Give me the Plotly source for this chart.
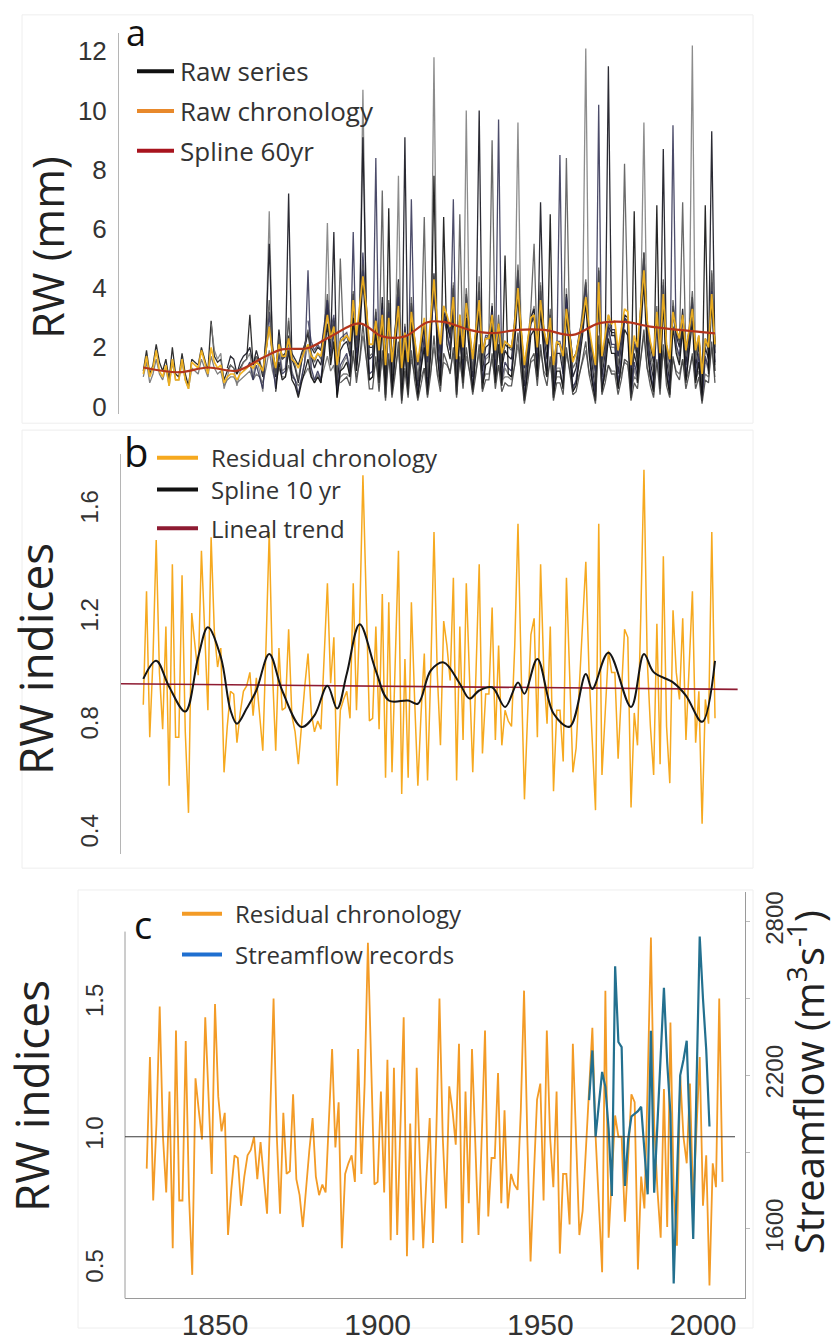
import plotly.graph_objects as go

W, H = 838, 1341

# ---------------------------------------------------------------- data
FIRST_YEAR = 1829

# Residual (prewhitened) ring-width chronology, 1829-2006
RESIDUAL = [
    0.88,
    1.30, 0.76, 1.05, 1.49, 1.00, 0.79, 1.17, 0.58, 1.40, 0.76,
    0.76, 1.36, 0.78, 0.48, 1.22, 1.10, 0.99, 1.45, 1.15, 0.86,
    1.50, 1.15, 1.02, 1.09, 0.63, 0.80, 0.93, 0.92, 0.74, 0.85,
    0.93, 0.95, 1.00, 0.84, 0.98, 0.85, 0.71, 1.10, 1.52, 1.00,
    0.71, 1.09, 0.86, 0.87, 1.16, 0.84, 0.78, 0.66, 0.82, 0.95,
    1.07, 0.85, 0.78, 0.82, 0.79, 1.05, 1.33, 0.96, 1.13, 0.58,
    0.86, 0.90, 0.93, 0.83, 1.33, 0.86, 1.20, 1.73, 1.25, 0.82,
    0.83, 1.17, 0.79, 1.29, 0.61, 1.26, 0.63, 1.00, 1.45, 0.55,
    1.05, 0.61, 1.26, 0.90, 0.58, 0.85, 1.07, 0.60, 1.00, 1.52,
    1.00, 0.73, 1.19, 1.10, 0.97, 1.35, 0.60, 1.17, 0.75, 1.33,
    1.00, 0.63, 1.00, 1.40, 0.70, 0.92, 0.92, 1.24, 0.75, 1.10,
    0.73, 0.86, 0.82, 0.80, 1.10, 1.55, 1.00, 0.53, 0.85, 1.14,
    1.20, 0.76, 1.40, 1.00, 0.81, 1.17, 0.56, 0.86, 0.86, 0.67,
    1.35, 1.00, 0.63, 0.72, 0.95, 1.14, 1.41, 1.00, 0.75, 0.49,
    1.55, 0.62, 0.85, 1.08, 1.00, 1.00, 0.68, 0.90, 1.16, 1.13,
    0.50, 0.85, 0.73, 1.20, 1.75, 1.05, 0.80, 0.62, 1.18, 0.66,
    1.43, 0.80, 0.59, 1.23, 1.00, 0.90, 1.20, 0.75, 1.00, 1.30,
    0.74, 0.93, 0.44, 0.90, 0.81, 1.52, 0.83,
]

# Raw (mean ring-width) chronology in mm, 1829-2006
RAW_CHRONOLOGY = [
    1.1,
    1.7, 1.0, 1.3, 1.9, 1.2, 1.0, 1.4, 0.7, 1.6, 0.9,
    0.9, 1.6, 0.9, 0.6, 1.5, 1.4, 1.3, 1.9, 1.5, 1.1,
    2.0, 1.5, 1.3, 1.4, 0.8, 1.0, 1.1, 1.1, 0.9, 1.1,
    1.2, 1.3, 1.4, 1.3, 1.5, 1.4, 1.2, 1.9, 2.7, 1.8,
    1.3, 2.1, 1.7, 1.7, 2.3, 1.6, 1.5, 1.3, 1.6, 1.9,
    2.1, 1.7, 1.6, 1.8, 1.7, 2.4, 3.1, 2.3, 2.7, 1.4,
    2.2, 2.3, 2.4, 2.2, 3.6, 2.4, 3.4, 4.4, 3.4, 2.1,
    2.1, 2.9, 1.9, 3.1, 1.4, 3.0, 1.5, 2.4, 3.4, 1.3,
    2.5, 1.5, 3.2, 2.3, 1.5, 2.3, 3.0, 1.7, 2.9, 4.3,
    2.9, 2.1, 3.4, 3.1, 2.7, 3.7, 1.6, 3.1, 2.0, 3.5,
    2.6, 1.6, 2.6, 3.6, 1.8, 2.3, 2.3, 3.1, 1.9, 2.8,
    1.8, 2.2, 2.1, 2.0, 2.8, 4.0, 2.6, 1.4, 2.2, 3.0,
    3.1, 2.0, 3.6, 2.6, 2.1, 3.0, 1.4, 2.2, 2.1, 1.7,
    3.3, 2.4, 1.5, 1.8, 2.4, 2.9, 3.7, 2.7, 2.0, 1.4,
    4.2, 1.7, 2.4, 3.1, 2.8, 2.9, 1.9, 2.6, 3.3, 3.2,
    1.4, 2.4, 2.0, 3.3, 4.6, 2.9, 2.2, 1.7, 3.2, 1.8,
    3.8, 2.1, 1.6, 3.2, 2.6, 2.3, 3.1, 1.9, 2.6, 3.3,
    1.9, 2.4, 1.1, 2.3, 2.0, 3.8, 2.1,
]

# Individual raw ring-width series (mm); each starts at its own year
SERIES_STARTS = [1829, 1829, 1850, 1855, 1860, 1865, 1870, 1880, 1890]

SERIES_A = [
    1.0, 1.5, 0.8, 1.1, 1.6, 1.1, 0.9, 1.3, 0.7, 1.5, 0.9,
    0.9, 1.5, 0.9, 0.6, 1.3, 1.2, 1.1, 1.6, 1.3, 1.0,
    1.7, 1.3, 1.1, 1.2, 0.7, 0.9, 1.0, 1.0, 0.8, 0.9,
    1.0, 1.1, 1.2, 0.9, 1.1, 1.0, 0.8, 1.3, 1.9, 1.2,
    0.8, 1.3, 1.0, 1.0, 1.4, 1.0, 0.9, 0.7, 0.9, 1.1,
    1.3, 1.0, 0.9, 1.0, 0.9, 1.3, 1.7, 1.2, 1.4, 0.6,
    1.0, 1.1, 1.1, 1.0, 1.7, 1.0, 1.5, 2.4, 1.6, 0.9,
    1.0, 1.5, 0.9, 1.6, 0.7, 1.6, 0.7, 1.2, 1.9, 0.6,
    1.3, 0.7, 1.6, 1.1, 0.6, 1.0, 1.3, 0.7, 1.2, 2.0,
    1.2, 0.8, 1.5, 1.4, 1.2, 1.8, 0.7, 1.5, 0.9, 1.7,
    1.2, 0.7, 1.2, 1.8, 0.8, 1.1, 1.1, 1.6, 0.9, 1.4,
    0.9, 1.0, 1.0, 0.9, 1.4, 2.1, 1.2, 0.6, 1.0, 1.5,
    1.6, 0.9, 1.9, 1.2, 1.0, 1.5, 0.6, 1.0, 1.0, 0.8,
    1.8, 1.2, 0.7, 0.8, 1.1, 1.5, 1.9, 1.2, 0.9, 0.5,
    2.1, 0.7, 1.0, 1.4, 1.2, 1.2, 0.8, 1.1, 1.5, 1.4,
    0.6, 1.0, 0.9, 1.6, 2.4, 1.3, 1.0, 0.7, 1.5, 0.8,
    1.9, 1.0, 0.7, 1.6, 1.2, 1.1, 1.6, 0.9, 1.2, 1.7,
    0.9, 1.2, 0.5, 1.1, 1.0, 2.0, 1.0,
]

SERIES_B = [
    1.2, 1.9, 1.1, 1.4, 2.1, 1.5, 1.2, 1.6, 0.9, 2.0, 1.1,
    1.0, 1.8, 1.1, 0.7, 1.6, 1.5, 1.4, 2.0, 1.6, 1.2,
    2.9, 1.7, 1.5, 1.6, 0.9, 1.2, 1.4, 1.3, 1.1, 1.3,
    1.5, 1.6, 3.1, 1.4, 1.7, 1.5, 1.2, 1.9, 2.7, 1.8,
    1.3, 2.1, 1.7, 1.8, 2.4, 1.8, 1.6, 1.4, 1.8, 2.1,
    2.5, 2.0, 1.8, 2.0, 1.9, 2.6, 3.3, 2.4, 2.9, 1.4,
    2.2, 2.3, 2.4, 2.1, 3.4, 2.2, 3.0, 4.4, 3.1, 2.0,
    2.0, 2.9, 1.9, 3.2, 1.5, 3.1, 1.5, 2.5, 3.6, 1.3,
    2.6, 1.5, 3.1, 2.2, 1.4, 2.1, 2.7, 1.5, 2.5, 3.8,
    2.5, 1.8, 3.0, 2.8, 2.4, 3.4, 1.5, 2.9, 1.9, 3.3,
    2.5, 1.6, 2.5, 3.5, 1.7, 2.3, 2.3, 3.1, 1.9, 2.7,
    1.8, 2.1, 2.0, 2.0, 2.7, 3.9, 2.5, 1.3, 2.1, 2.8,
    3.0, 1.9, 3.5, 2.5, 2.0, 2.9, 1.4, 2.1, 2.1, 1.7,
    3.4, 2.5, 1.6, 1.8, 2.4, 2.8, 3.5, 2.5, 1.9, 1.2,
    3.9, 1.5, 2.1, 2.7, 2.5, 2.5, 1.7, 2.2, 2.9, 2.8,
    1.2, 2.1, 1.8, 3.0, 4.4, 2.6, 2.0, 1.5, 2.9, 1.6,
    3.6, 2.0, 1.5, 3.1, 2.5, 2.2, 3.0, 1.9, 2.5, 3.2,
    1.8, 2.3, 1.1, 2.2, 2.0, 3.8, 2.1,
]

SERIES_C = [
    2.8, 1.9, 1.6, 1.8, 0.6, 1.0, 1.4, 1.3, 0.7, 1.2,
    1.5, 1.6, 1.8, 1.0, 1.7, 1.2, 0.5, 2.4, 6.6, 2.0,
    0.6, 2.3, 1.2, 1.3, 3.0, 1.2, 0.9, 0.4, 1.0, 1.6,
    2.1, 1.1, 0.8, 1.1, 0.8, 2.0, 6.2, 1.6, 2.6, 0.3,
    1.2, 1.5, 1.7, 1.0, 3.6, 1.2, 3.0, 10.7, 3.4, 0.9,
    1.0, 3.0, 0.8, 3.5, 0.4, 3.3, 0.5, 2.0, 7.8, 0.3,
    2.2, 0.5, 3.4, 1.5, 0.3, 1.3, 2.3, 0.4, 2.0, 11.8,
    2.1, 0.7, 3.2, 2.6, 1.9, 4.2, 0.4, 3.0, 0.8, 10.0,
    2.0, 0.5, 2.1, 4.4, 0.6, 1.6, 1.7, 3.5, 0.8, 2.6,
    0.7, 1.3, 1.1, 1.0, 2.6, 9.6, 2.0, 0.2, 1.3, 3.0,
    3.4, 1.0, 4.2, 2.0, 1.0, 3.1, 0.3, 1.3, 1.3, 0.6,
    4.0, 2.0, 0.5, 0.8, 1.7, 2.9, 12.1, 2.0, 0.9, 0.2,
    4.6, 0.5, 1.3, 2.6, 2.0, 2.0, 0.6, 1.5, 3.0, 2.8,
    0.3, 1.3, 0.8, 3.2, 9.6, 2.2, 1.0, 0.4, 3.1, 0.6,
    4.2, 1.0, 0.4, 3.3, 2.0, 1.5, 3.1, 0.9, 2.0, 12.2,
    0.8, 1.7, 0.2, 1.6, 1.2, 4.5, 1.4,
]

SERIES_D = [
    1.3, 1.7, 1.6, 1.1, 1.5,
    1.7, 1.8, 2.0, 1.4, 1.9, 1.5, 1.0, 2.4, 5.5, 2.1,
    1.0, 2.6, 1.6, 1.7, 7.2, 1.6, 1.3, 0.8, 1.5, 2.0,
    2.5, 1.7, 1.3, 1.6, 1.4, 2.4, 3.6, 2.0, 5.9, 0.7,
    1.9, 2.1, 2.2, 1.7, 3.8, 1.8, 3.1, 9.1, 3.6, 1.6,
    1.7, 3.2, 1.5, 3.7, 0.8, 3.5, 0.9, 2.4, 4.3, 0.6,
    9.1, 0.9, 3.5, 2.0, 0.7, 1.8, 2.8, 0.8, 2.4, 4.5,
    2.4, 1.3, 3.2, 2.8, 2.3, 4.0, 0.8, 3.1, 1.4, 3.8,
    2.4, 1.0, 2.4, 10.0, 1.2, 2.0, 2.1, 3.4, 1.4, 2.8,
    1.3, 1.9, 1.7, 1.6, 2.8, 4.6, 2.4, 0.7, 1.8, 3.0,
    3.3, 1.5, 6.9, 2.4, 1.6, 3.1, 0.7, 1.8, 1.8, 1.1,
    3.8, 2.4, 1.0, 1.3, 2.1, 3.0, 4.2, 2.4, 1.4, 0.5,
    4.6, 1.0, 1.8, 11.5, 2.4, 2.4, 1.1, 2.0, 3.1, 3.0,
    0.6, 1.8, 1.3, 3.3, 5.2, 2.6, 1.5, 0.9, 3.2, 1.0,
    8.7, 1.6, 0.8, 3.4, 2.4, 2.0, 3.3, 1.4, 2.4, 3.7,
    1.3, 2.1, 0.4, 2.0, 1.6, 9.3, 1.8,
]

SERIES_E = [
    1.2, 1.3, 1.5, 0.9, 1.4, 1.0, 0.6, 1.8, 3.2, 1.5,
    0.6, 1.8, 1.1, 1.2, 2.3, 1.1, 0.9, 0.4, 0.9, 1.5,
    4.6, 1.3, 0.9, 1.2, 0.9, 2.0, 3.3, 1.7, 2.6, 0.4,
    1.4, 1.6, 1.8, 1.2, 5.9, 1.4, 2.9, 5.2, 3.1, 1.1,
    1.2, 8.4, 1.0, 3.2, 0.4, 3.0, 0.5, 2.0, 4.0, 0.3,
    2.2, 0.5, 7.0, 1.6, 0.4, 1.5, 2.4, 0.5, 2.1, 4.3,
    2.1, 0.9, 3.0, 2.5, 1.9, 7.0, 0.5, 2.8, 1.0, 3.7,
    2.1, 0.6, 2.1, 3.9, 0.8, 1.7, 1.8, 3.2, 1.0, 9.7,
    0.9, 1.5, 1.3, 1.2, 2.5, 4.5, 2.0, 0.3, 1.5, 2.8,
    3.1, 1.2, 3.9, 2.1, 1.2, 2.9, 0.4, 1.5, 8.5, 0.8,
    3.7, 2.0, 0.6, 0.9, 1.8, 2.8, 4.1, 2.1, 1.0, 0.3,
    10.2, 0.6, 1.5, 2.7, 2.1, 2.1, 0.8, 1.7, 3.0, 2.8,
    0.4, 1.5, 1.0, 3.1, 5.0, 2.3, 1.2, 0.6, 3.0, 0.7,
    4.1, 1.3, 0.5, 9.5, 2.1, 1.7, 3.1, 1.0, 2.1, 3.5,
    1.0, 1.8, 0.2, 1.7, 1.3, 4.2, 1.5,
]

SERIES_F = [
    1.6, 1.1, 2.2, 3.6, 1.9,
    1.1, 2.4, 1.6, 1.7, 2.9, 1.7, 1.4, 0.9, 1.6, 2.1,
    2.6, 1.8, 1.5, 1.8, 1.6, 2.6, 3.8, 2.2, 3.0, 0.9,
    5.0, 2.2, 2.4, 1.9, 3.9, 2.0, 3.3, 4.8, 3.5, 1.7,
    1.8, 3.3, 1.6, 7.3, 1.0, 3.6, 1.1, 2.6, 4.2, 0.8,
    2.8, 1.0, 3.7, 2.3, 0.9, 2.1, 6.4, 1.0, 2.6, 4.4,
    2.6, 1.6, 3.4, 3.0, 2.5, 4.1, 1.0, 6.5, 1.6, 4.0,
    2.6, 1.2, 2.6, 4.2, 1.4, 2.3, 2.4, 9.0, 1.6, 3.1,
    1.5, 2.1, 2.0, 1.9, 3.0, 4.8, 2.6, 0.9, 2.1, 3.3,
    5.5, 1.8, 4.1, 2.6, 1.9, 3.3, 0.9, 2.1, 2.1, 1.4,
    8.4, 2.6, 1.3, 1.5, 2.3, 3.2, 4.3, 2.6, 1.6, 0.8,
    4.7, 1.3, 2.0, 3.1, 2.6, 2.6, 1.4, 2.2, 8.2, 3.2,
    0.9, 2.1, 1.6, 3.5, 5.2, 2.8, 1.8, 1.2, 3.4, 1.3,
    4.3, 1.9, 1.1, 3.6, 2.6, 2.2, 6.9, 1.7, 2.6, 3.9,
    1.6, 2.3, 0.7, 2.2, 1.9, 4.6, 2.0,
]

SERIES_G = [
    0.5, 1.5, 0.9, 1.0, 1.9, 0.9, 0.7, 0.3, 0.8, 1.2,
    1.6, 1.0, 0.8, 1.0, 0.8, 1.7, 2.8, 1.4, 2.2, 0.3,
    1.2, 1.3, 1.5, 1.0, 3.0, 1.2, 2.4, 4.3, 2.6, 0.9,
    1.0, 2.6, 0.8, 2.9, 0.3, 6.7, 0.4, 1.7, 3.4, 0.2,
    1.9, 0.4, 2.9, 1.4, 0.3, 1.3, 2.0, 0.4, 1.8, 7.8,
    1.8, 0.7, 6.4, 2.1, 1.6, 3.1, 0.4, 2.4, 0.8, 3.0,
    1.8, 0.5, 1.8, 3.3, 0.6, 1.4, 1.5, 2.7, 0.8, 2.1,
    0.7, 5.1, 1.1, 1.0, 2.1, 3.8, 1.7, 0.2, 1.2, 2.4,
    2.6, 1.0, 3.3, 1.8, 1.0, 6.5, 0.3, 1.2, 1.2, 0.6,
    3.1, 1.7, 0.5, 0.7, 1.5, 2.4, 3.5, 1.8, 0.8, 0.2,
    3.8, 0.5, 1.2, 2.3, 1.8, 1.8, 0.6, 1.4, 2.6, 2.4,
    0.3, 6.6, 0.8, 2.6, 4.2, 1.9, 1.0, 0.5, 6.8, 0.6,
    3.5, 1.1, 0.4, 2.7, 1.8, 1.4, 2.6, 0.8, 1.8, 2.9,
    0.8, 1.5, 0.2, 6.8, 1.1, 3.6, 1.2,
]

SERIES_H = [
    2.9, 2.2, 1.9, 2.1, 1.9, 2.8, 3.6, 2.6, 3.1, 1.4,
    2.3, 2.4, 2.5, 2.1, 3.5, 2.3, 3.1, 4.6, 3.3, 2.1,
    2.1, 3.0, 2.0, 3.3, 1.5, 3.2, 1.6, 2.6, 3.7, 1.3,
    2.7, 1.5, 3.2, 2.3, 1.4, 2.2, 2.8, 1.5, 2.6, 3.9,
    2.6, 1.8, 3.1, 2.9, 2.5, 3.5, 1.5, 3.0, 1.9, 3.4,
    2.6, 1.6, 2.6, 3.6, 1.8, 2.4, 2.4, 3.2, 1.9, 2.8,
    1.9, 2.2, 2.1, 2.0, 2.8, 4.0, 2.6, 1.3, 2.2, 2.9,
    3.1, 1.9, 3.6, 2.6, 2.1, 3.0, 1.4, 2.2, 2.2, 1.7,
    3.5, 2.6, 1.6, 1.8, 2.5, 2.9, 3.6, 2.6, 1.9, 1.2,
    4.0, 1.6, 2.2, 2.8, 2.6, 2.6, 1.7, 2.3, 3.0, 2.9,
    1.3, 2.2, 1.9, 3.1, 4.5, 2.7, 2.1, 1.6, 3.0, 1.7,
    3.7, 2.1, 1.5, 3.2, 2.6, 2.3, 3.1, 1.9, 2.6, 3.3,
    1.9, 2.4, 1.1, 2.3, 2.1, 3.9, 2.2,
]

SERIES_I = [
    0.8, 0.9, 1.0, 0.7, 1.9, 0.8, 1.6, 2.8, 1.8, 0.6,
    0.6, 1.7, 0.5, 1.9, 0.2, 1.8, 0.3, 1.1, 2.2, 0.1,
    1.2, 0.3, 1.9, 0.9, 0.2, 0.8, 1.3, 0.3, 1.1, 2.4,
    1.1, 0.5, 1.8, 1.5, 1.1, 2.0, 0.3, 1.7, 0.6, 2.0,
    1.1, 0.4, 1.1, 2.1, 0.5, 0.9, 0.9, 1.8, 0.6, 1.4,
    0.5, 0.8, 0.7, 0.7, 1.4, 2.5, 1.1, 0.1, 0.8, 1.6,
    1.8, 0.7, 2.1, 1.1, 0.7, 1.7, 0.2, 0.8, 0.8, 0.4,
    2.0, 1.1, 0.4, 0.5, 1.0, 1.6, 2.2, 1.1, 0.6, 0.1,
    2.4, 0.4, 0.8, 1.4, 1.1, 1.1, 0.4, 0.9, 1.6, 1.5,
    0.2, 0.8, 0.6, 1.6, 2.6, 1.3, 0.7, 0.3, 1.6, 0.4,
    2.1, 0.7, 0.3, 1.7, 1.1, 0.9, 1.6, 0.6, 1.1, 1.8,
    0.6, 1.0, 0.1, 0.9, 0.8, 2.2, 0.8,
]

RAW_SERIES = [SERIES_A, SERIES_B, SERIES_C, SERIES_D, SERIES_E,
              SERIES_F, SERIES_G, SERIES_H, SERIES_I]
RAW_COLORS = ["rgba(95,95,95,0.8)", "rgba(25,25,25,0.9)", "rgba(120,120,120,0.85)",
              "rgba(20,20,30,0.9)", "rgba(45,45,80,0.85)", "rgba(80,80,80,0.85)",
              "rgba(15,15,15,0.9)", "rgba(50,50,85,0.8)", "rgba(60,60,60,0.85)"]

# 60-yr smoothing spline of the raw chronology
SPLINE60_YEARS = [1829, 1840, 1849, 1858, 1866, 1872, 1880, 1887, 1896, 1903, 1910, 1917,
                  1922, 1930, 1937, 1945, 1953, 1962, 1970, 1978, 1986, 1995, 2006]
SPLINE60 = [1.32, 1.16, 1.32, 1.21, 1.65, 1.93, 1.98, 2.37, 2.81, 2.37, 2.37, 2.85,
            2.86, 2.59, 2.48, 2.59, 2.59, 2.42, 2.81, 2.86, 2.70, 2.59, 2.47]

# 10-yr smoothing spline of the residual chronology
SPLINE10_YEARS = [1829, 1833, 1837, 1842, 1846, 1849, 1853, 1856, 1858, 1861, 1864, 1868,
                  1872, 1878, 1882, 1886, 1889, 1892, 1896, 1901, 1905, 1911, 1914, 1918,
                  1922, 1927, 1930, 1933, 1937, 1941, 1945, 1947, 1951, 1956, 1961, 1966,
                  1968, 1973, 1980, 1984, 1987, 1993, 1997, 2002, 2006]
SPLINE10 = [0.976, 1.043, 0.947, 0.855, 1.057, 1.167, 1.057, 0.86, 0.81, 0.866, 0.933, 1.068,
            0.933, 0.798, 0.841, 0.951, 0.866, 0.995, 1.178, 1.006, 0.896, 0.896, 0.884, 1.007,
            1.037, 0.958, 0.903, 0.933, 0.945, 0.872, 0.963, 0.921, 1.05, 0.848, 0.799, 0.994,
            0.939, 1.073, 0.872, 1.068, 1.001, 0.963, 0.914, 0.817, 1.043]

# Linear trend of the residual chronology
TREND_YEARS = [1822, 2013]
TREND = [0.958, 0.937]

# Gauged streamflow (m3/s), 1965-2002
FLOW_FIRST_YEAR = 1965
STREAMFLOW = [2103, 2297, 1961, 2090, 2213, 2155, 1990, 1729, 2626, 2330,
              2310, 1768, 1950, 2039, 2050, 2060, 2077, 1900, 1735, 2374,
              1741, 2010, 2280, 2542, 2250, 2050, 1387, 1800, 2200, 2260,
              2335, 1950, 1561, 2150, 2742, 2500, 2300, 2000]

YEARS = list(range(FIRST_YEAR, FIRST_YEAR + len(RESIDUAL)))
FLOW_YEARS = list(range(FLOW_FIRST_YEAR, FLOW_FIRST_YEAR + len(STREAMFLOW)))


# ---------------------------------------------------------------- helpers
def px(x):
    return x / W


def py(y):
    return 1 - y / H


TEXT_FONT = "Open Sans, Noto Sans, sans-serif"
TICK_FONT = "Liberation Sans, Arial, sans-serif"

fig = go.Figure()

# ---------------------------------------------------------------- panel a
for vals, start, col in zip(RAW_SERIES, SERIES_STARTS, RAW_COLORS):
    fig.add_trace(go.Scatter(x=list(range(start, start + len(vals))), y=vals,
                             mode="lines", line=dict(color=col, width=1.3),
                             xaxis="x", yaxis="y", hoverinfo="skip"))
fig.add_trace(go.Scatter(x=YEARS, y=RAW_CHRONOLOGY, mode="lines",
                         line=dict(color="rgba(242,178,30,0.95)", width=1.7),
                         xaxis="x", yaxis="y", name="Raw chronology"))
fig.add_trace(go.Scatter(x=SPLINE60_YEARS, y=SPLINE60, mode="lines",
                         line=dict(color="#B3341C", width=2.2, shape="spline", smoothing=1.0),
                         xaxis="x", yaxis="y", name="Spline 60yr"))

# ---------------------------------------------------------------- panel b
fig.add_trace(go.Scatter(x=YEARS, y=RESIDUAL, mode="lines",
                         line=dict(color="#F6A91F", width=1.5),
                         xaxis="x2", yaxis="y2", name="Residual chronology"))
fig.add_trace(go.Scatter(x=TREND_YEARS, y=TREND, mode="lines",
                         line=dict(color="#8E1B32", width=1.6),
                         xaxis="x2", yaxis="y2", name="Lineal trend"))
fig.add_trace(go.Scatter(x=SPLINE10_YEARS, y=SPLINE10, mode="lines",
                         line=dict(color="#151515", width=2, shape="spline", smoothing=1.0),
                         xaxis="x2", yaxis="y2", name="Spline 10 yr"))

# ---------------------------------------------------------------- panel c
fig.add_trace(go.Scatter(x=YEARS, y=RESIDUAL, mode="lines",
                         line=dict(color="#F39B26", width=1.8),
                         xaxis="x3", yaxis="y3", name="Residual chronology"))
fig.add_trace(go.Scatter(x=FLOW_YEARS, y=STREAMFLOW, mode="lines",
                         line=dict(color="#23708F", width=2.2),
                         xaxis="x3", yaxis="y4", name="Streamflow records"))

# ---------------------------------------------------------------- axes
ytick_font = dict(family=TICK_FONT, size=26, color="#333")
rot_font = dict(family=TICK_FONT, size=24, color="#333")

fig.update_layout(
    width=W, height=H, margin=dict(l=0, r=0, t=0, b=0),
    paper_bgcolor="white", plot_bgcolor="white", showlegend=False,
    xaxis=dict(domain=[px(119), px(745)], range=[1821.48, 2015.3], visible=False,
               anchor="y"),
    yaxis=dict(domain=[py(418), py(33)], range=[-0.26, 12.63], anchor="x",
               tickvals=[0, 2, 4, 6, 8, 10, 12], showgrid=False, zeroline=False,
               showline=True, linecolor="#b5b5b5", linewidth=1, ticks="",
               tickfont=ytick_font, ticklabelstandoff=6),
    xaxis2=dict(domain=[px(121), px(745)], range=[1822.10, 2015.28], visible=False,
                anchor="y2"),
    yaxis2=dict(domain=[py(862), py(458)], range=[0.3266, 1.809], anchor="x2",
                tickvals=[0.4, 0.8, 1.2, 1.6], ticktext=["0.4", "0.8", "1.2", "1.6"],
                tickangle=-90, showgrid=False, zeroline=False, showline=True,
                linecolor="#b5b5b5", linewidth=1, ticks="", tickfont=rot_font,
                ticklabelstandoff=12),
    xaxis3=dict(domain=[px(125), px(745)], range=[1822.33, 2012.92], anchor="y3",
                tickvals=[1850, 1900, 1950, 2000], showgrid=False, zeroline=False,
                showline=True, linecolor="#9a9a9a", linewidth=1, ticks="",
                tickfont=dict(family=TICK_FONT, size=30, color="#333"),
                ticklabelstandoff=0),
    yaxis3=dict(domain=[py(1310), py(900)], range=[0.3918, 1.9216], anchor="x3",
                tickvals=[0.5, 1.0, 1.5], ticktext=["0.5", "1.0", "1.5"],
                tickangle=-90, showgrid=False, zeroline=False, showline=False,
                ticks="", tickfont=rot_font, ticklabelstandoff=16),
    yaxis4=dict(overlaying="y3", side="right", anchor="x3", range=[1329.0, 2916.1],
                tickvals=[1600, 2200, 2800], ticktext=["1600", "2200", "2800"],
                minor=dict(tickvals=[1900, 2500], ticks="outside", ticklen=4,
                           tickcolor="#bbb"),
                tickangle=-90, showgrid=False, zeroline=False, showline=True,
                linecolor="#9a9a9a", linewidth=1, ticks="outside", ticklen=4,
                tickcolor="#bbb", tickfont=rot_font, ticklabelstandoff=4),
)

# ---------------------------------------------------------------- shapes
shapes = []

# faint frames around the three panels
for x0, y0, x1, y1 in [(22, 15, 753, 427), (22, 434, 753, 876), (78, 898, 753, 1340)]:
    shapes.append(dict(type="rect", xref="paper", yref="paper",
                       x0=px(x0), x1=px(x1), y0=py(y1), y1=py(y0),
                       line=dict(color="#eeeeee", width=1), layer="below"))

# left axis line of panel c
shapes.append(dict(type="line", xref="paper", yref="paper",
                   x0=px(125), x1=px(125), y0=py(1310), y1=py(940),
                   line=dict(color="#9a9a9a", width=1)))

# reference line at index 1.0 in panel c
shapes.append(dict(type="line", xref="paper", yref="y3", x0=px(125), x1=px(735),
                   y0=1.0, y1=1.0, line=dict(color="#3a3a3a", width=1.2)))


def legend_key(x0, x1, y, color, width=4):
    shapes.append(dict(type="line", xref="paper", yref="paper",
                       x0=px(x0), x1=px(x1), y0=py(y), y1=py(y),
                       line=dict(color=color, width=width)))


legend_key(137, 174, 72, "#111111")
legend_key(137, 174, 112, "#E8892B")
legend_key(137, 174, 152, "#A8141E")

legend_key(157, 198, 462, "#F6A91F")
legend_key(157, 198, 494, "#111111")
legend_key(157, 198, 533, "#8E1B32")

legend_key(182, 222, 922, "#F39B26")
legend_key(182, 222, 963, "#1F6FD0")

fig.update_layout(shapes=shapes)

# ---------------------------------------------------------------- text
annotations = []


def label(x, y, text, size, color="#333", xanchor="left", angle=0, family=TEXT_FONT):
    annotations.append(dict(xref="paper", yref="paper", x=px(x), y=py(y), text=text,
                            showarrow=False, xanchor=xanchor, yanchor="middle",
                            textangle=angle,
                            font=dict(family=family, size=size, color=color)))


label(178, 72, "Raw series", 26)
label(178, 112, "Raw chronology", 26)
label(178, 152, "Spline 60yr", 26)

label(209, 462, "Residual chronology", 24)
label(209, 494, "Spline 10 yr", 24)
label(209, 533, "Lineal trend", 24)

label(233, 922, "Residual chronology", 24)
label(233, 963, "Streamflow records", 24)

label(136, 33, "a", 36, color="#111", xanchor="center")
label(136, 456, "b", 40, color="#111", xanchor="center")
label(143, 932, "c", 38, color="#111", xanchor="center")

label(48, 250, "RW (mm)", 43, color="#222", xanchor="center", angle=-90)
label(35, 665, "RW indices", 46, color="#222", xanchor="center", angle=-90)
label(31, 1106, "RW indices", 46, color="#222", xanchor="center", angle=-90)
label(806, 1092, "Streamflow (m<sup>3</sup>s<sup>-1</sup>)", 40, color="#222",
      xanchor="center", angle=-90)

fig.update_layout(annotations=annotations)

fig.write_html("out.html")
